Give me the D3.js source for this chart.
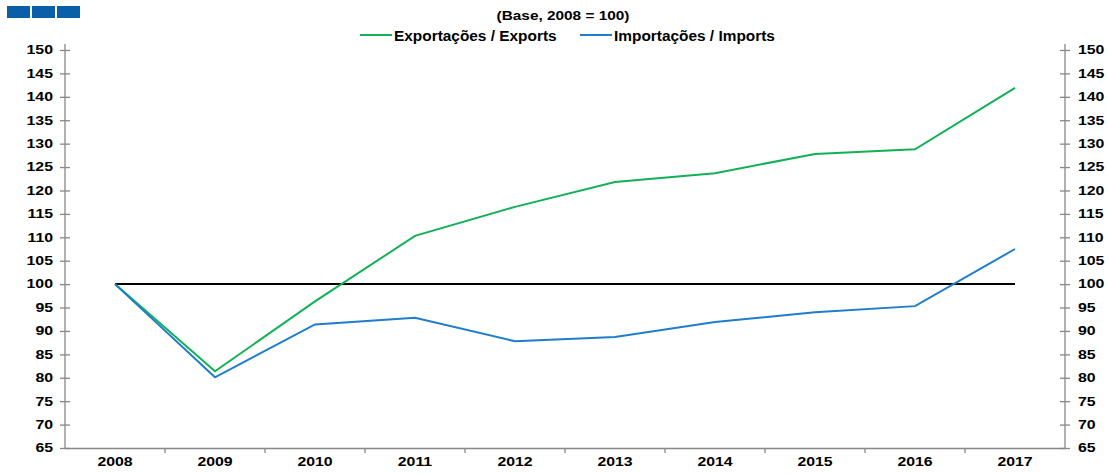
<!DOCTYPE html>
<html>
<head>
<meta charset="utf-8">
<script src="https://cdn.jsdelivr.net/npm/d3@7"></script>
<style>
  body { margin: 0; background: #fff; }
  text { font-family: "Liberation Sans", Arial, sans-serif; font-weight: bold; fill: #000; }
</style>
</head>
<body>
<div id="chart"></div>
<script>
// data
var years = ['2008', '2009', '2010', '2011', '2012', '2013', '2014', '2015', '2016', '2017'];
var exportsIdx = [100, 81.4, 96.3, 110.3, 116.5, 121.8, 123.7, 127.8, 128.8, 141.9];
var importsIdx = [100, 80.1, 91.4, 92.8, 87.8, 88.7, 91.9, 94.0, 95.3, 107.5];
var yTicks = [65, 70, 75, 80, 85, 90, 95, 100, 105, 110, 115, 120, 125, 130, 135, 140, 145, 150];

var W = 1108, H = 474;
var mLeft = 65, mRight = 1065, mTop = 50, mBottom = 448;

var svg = d3.select('#chart').append('svg')
  .attr('width', W).attr('height', H);

// the reference text is drawn wider than the font, so stretch it a bit
function stretch(sel, k) {
  sel.each(function() {
    var len = this.getComputedTextLength();
    d3.select(this).attr('textLength', len * k).attr('lengthAdjust', 'spacingAndGlyphs');
  });
}

// little logo blocks
svg.selectAll('rect.logo').data([0, 1, 2]).enter().append('rect')
  .attr('class', 'logo')
  .attr('x', function(d) { return 7 + d * 25; })
  .attr('y', 6).attr('width', 23).attr('height', 12)
  .attr('fill', '#0b5ea8');

var title = svg.append('text').attr('x', 563).attr('y', 20)
  .attr('text-anchor', 'middle').style('font-size', '12px')
  .text('(Base, 2008 = 100)');
stretch(title, 1.28);

var x = d3.scaleBand().domain(years).range([mLeft, mRight]);
var y = d3.scaleLinear().domain([65, 150]).range([mBottom, mTop]);
var cx = function(d) { return x(d) + x.bandwidth() / 2; };

// axes
var axisColor = '#888';
var yl = svg.append('g').attr('transform', 'translate(' + mLeft + ',0)')
  .call(d3.axisLeft(y).tickValues(yTicks).tickSize(5).tickPadding(7));
var yr = svg.append('g').attr('transform', 'translate(' + mRight + ',0)')
  .call(d3.axisRight(y).tickValues(yTicks).tickSize(5).tickPadding(8));
[yl, yr].forEach(function(g) {
  g.select('.domain').attr('d', 'M0,' + (mTop - 6) + 'V' + mBottom);
  g.selectAll('.tick line').attr('x1', -5).attr('x2', 5);
});

var xa = svg.append('g').attr('transform', 'translate(0,' + mBottom + ')')
  .call(d3.axisBottom(x).tickSize(0).tickPadding(9));
xa.selectAll('.tick').filter(function(d, i) { return i > 0; })
  .append('line')
  .attr('x1', -x.bandwidth() / 2).attr('x2', -x.bandwidth() / 2)
  .attr('y1', 0).attr('y2', 5);

svg.selectAll('.domain, .tick line').attr('stroke', axisColor).attr('stroke-width', 1.3);
svg.selectAll('.tick text').style('font-size', '12px').attr('fill', '#000');
stretch(svg.selectAll('.tick text'), 1.32);

// base line at 100
svg.append('line')
  .attr('x1', cx(years[0])).attr('x2', cx(years[years.length - 1]))
  .attr('y1', y(100)).attr('y2', y(100))
  .attr('stroke', '#000').attr('stroke-width', 2);

var line = d3.line().x(function(d, i) { return cx(years[i]); }).y(function(d) { return y(d); });

var series = [
  { name: 'Exportações / Exports', values: exportsIdx, color: '#12b157' },
  { name: 'Importações / Imports', values: importsIdx, color: '#1f7dcb' }
];

svg.selectAll('path.series').data(series).enter().append('path')
  .attr('class', 'series')
  .attr('d', function(d) { return line(d.values); })
  .attr('fill', 'none')
  .attr('stroke', function(d) { return d.color; })
  .attr('stroke-width', 2);

// legend
var legX = [360, 580];
var leg = svg.selectAll('g.leg').data(series).enter().append('g')
  .attr('class', 'leg')
  .attr('transform', function(d, i) { return 'translate(' + legX[i] + ',35)'; });
leg.append('line').attr('x1', 0).attr('x2', 32)
  .attr('stroke', function(d) { return d.color; }).attr('stroke-width', 2);
var legText = leg.append('text').attr('x', 34).attr('y', 6).style('font-size', '14px')
  .text(function(d) { return d.name; });
stretch(legText, 1.1);
</script>
</body>
</html>
